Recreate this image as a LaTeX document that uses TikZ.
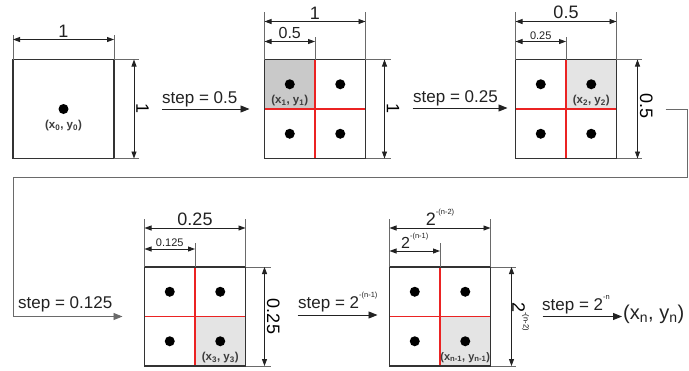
\documentclass[tikz,border=0pt]{standalone}
\usepackage{fontspec}
\setmainfont{Liberation Sans}
\usetikzlibrary{arrows.meta,backgrounds,calc}
\definecolor{boxc}{HTML}{333333}
\definecolor{dimc}{HTML}{222222}
\definecolor{extc}{HTML}{6A6A6A}
\definecolor{redc}{RGB}{235,35,35}
\definecolor{shadeA}{HTML}{C9C9C9}
\definecolor{shadeB}{HTML}{E4E4E4}
\definecolor{labc}{HTML}{3C3C3C}
\newcommand\fsz[1]{\fontsize{#1}{#1}\selectfont}
\newcommand\hsup[1]{\raisebox{0.62em}{\fsz{7.5}#1}}
\tikzset{
  frame/.style={inner sep=0pt, outer sep=0pt, minimum width=101pt, minimum height=99pt},
  border/.style={draw=boxc, line width=1.6pt},
  dimline/.style={draw=dimc, line width=0.9pt, {Triangle[length=7pt,width=5pt]}-{Triangle[length=7pt,width=5pt]}},
  extline/.style={draw=extc, line width=0.5pt},
  gridline/.style={draw=redc, line width=1.1pt},
  flow/.style={draw=dimc, line width=0.9pt, -{Triangle[length=9pt,width=7pt]}},
  conn/.style={draw=extc, line width=0.8pt, -{Triangle[length=9pt,width=7pt]}},
  dot/.style={circle, fill=black, minimum size=10pt, inner sep=0pt},
  ptlabel/.style={font=\fsz{11.5}\bfseries, text=labc, inner sep=0pt},
  dimbig/.style={font=\fsz{18}, text=dimc, inner sep=2pt},
  dimmid/.style={font=\fsz{16}, text=dimc, inner sep=2.5pt},
  dimsmall/.style={font=\fsz{11}, text=dimc, inner sep=1.5pt},
  steptext/.style={font=\fsz{17}, text=dimc, inner sep=0pt, anchor=base west},
  vlab/.style={anchor=south, rotate=-90, inner sep=2pt},
}
\begin{document}
\begin{tikzpicture}[x=1pt,y=-1pt]
\useasboundingbox (0,0) rectangle (689,370);

% frames
\node[frame] (b0) at (63.5,109) {};
\node[frame] (b1) at (315,109) {};
\node[frame] (b2) at (566,109) {};
\node[frame] (b3) at (195,316.5) {};
\node[frame] (b4) at (440,316.5) {};

% background and shading
\begin{scope}[on background layer]
  \fill[white] (0,0) rectangle (689,370);
  \fill[shadeA] (b1.north west) rectangle (b1.center);
  \fill[shadeB] (b2.north) rectangle (b2.east);
  \fill[shadeB] (b3.center) rectangle (b3.south east);
  \fill[shadeB] (b4.center) rectangle (b4.south east);
\end{scope}

% red grid lines
\foreach \b in {b1,b2,b3,b4} {
  \draw[gridline] (\b.north) -- (\b.south);
  \draw[gridline] (\b.west) -- (\b.east);
}

% borders
\foreach \b in {b0,b1,b2,b3,b4} {
  \draw[border] (\b.north west) rectangle (\b.south east);
}

% dots box 0
\node[dot] (d0) at (b0.center) {};
\node[ptlabel] (p0) at ([yshift=-17pt]d0) {(x\textsubscript{0}, y\textsubscript{0})};

% dots boxes 1-4
\foreach \b in {b1,b2,b3,b4} {
  \node[dot] (\b nw) at ($(\b.center)!0.5!(\b.north west)$) {};
  \node[dot] (\b ne) at ($(\b.center)!0.5!(\b.north east)$) {};
  \node[dot] (\b sw) at ($(\b.center)!0.5!(\b.south west)$) {};
  \node[dot] (\b se) at ($(\b.center)!0.5!(\b.south east)$) {};
}
\node[ptlabel] (p1) at ([yshift=-16pt]b1nw) {(x\textsubscript{1}, y\textsubscript{1})};
\node[ptlabel] (p2) at ([yshift=-16pt]b2ne) {(x\textsubscript{2}, y\textsubscript{2})};
\node[ptlabel] (p3) at ([yshift=-16pt]b3se) {(x\textsubscript{3}, y\textsubscript{3})};
\node[ptlabel, font=\fsz{11}\bfseries] (p4) at ([yshift=-16pt]b4se) {(x\textsubscript{n-1}, y\textsubscript{n-1})};

% ---- top dimensions ----
% box 0
\draw[extline] (b0.north west) -- ++(0,-25);
\draw[extline] (b0.north east) -- ++(0,-25);
\draw[dimline] ([yshift=20pt]b0.north west) -- ([yshift=20pt]b0.north east)
  node[midway, above, dimbig] (t0) {1};
% box 1
\draw[extline] (b1.north west) -- ++(0,-48);
\draw[extline] (b1.north east) -- ++(0,-48);
\draw[extline] (b1.north) -- ++(0,-23);
\draw[dimline] ([yshift=38pt]b1.north west) -- ([yshift=38pt]b1.north east)
  node[midway, above, dimbig] (t1) {1};
\draw[dimline] ([yshift=18pt]b1.north west) -- ([yshift=18pt]b1.north)
  node[midway, above, dimmid] (u1) {0.5};
% box 2
\draw[extline] (b2.north west) -- ++(0,-48);
\draw[extline] (b2.north east) -- ++(0,-48);
\draw[extline] (b2.north) -- ++(0,-23);
\draw[dimline] ([yshift=38pt]b2.north west) -- ([yshift=38pt]b2.north east)
  node[midway, above, dimbig] (t2) {0.5};
\draw[dimline] ([yshift=18pt]b2.north west) -- ([yshift=18pt]b2.north)
  node[midway, above, dimsmall] (u2) {0.25};
% box 3
\draw[extline] (b3.north west) -- ++(0,-48);
\draw[extline] (b3.north east) -- ++(0,-48);
\draw[extline] (b3.north) -- ++(0,-24);
\draw[dimline] ([yshift=39pt]b3.north west) -- ([yshift=39pt]b3.north east)
  node[midway, above, dimbig] (t3) {0.25};
\draw[dimline] ([yshift=18pt]b3.north west) -- ([yshift=18pt]b3.north)
  node[midway, above, dimsmall] (u3) {0.125};
% box 4
\draw[extline] (b4.north west) -- ++(0,-48);
\draw[extline] (b4.north east) -- ++(0,-48);
\draw[extline] (b4.north) -- ++(0,-24);
\draw[dimline] ([yshift=39pt]b4.north west) -- ([yshift=39pt]b4.north east)
  node[midway, above, dimbig] (t4) {2\hsup{-(n-2)}};
\draw[dimline] ([yshift=16pt]b4.north west) -- ([yshift=16pt]b4.north)
  node[midway, above, dimmid] (u4) {2\hsup{-(n-1)}};

% ---- right dimensions ----
\foreach \b in {b0,b1,b2,b3,b4} {
  \draw[extline] (\b.north east) -- ++(25,0);
  \draw[extline] (\b.south east) -- ++(25,0);
}
\draw[dimline] ([xshift=20pt]b0.north east) -- ([xshift=20pt]b0.south east)
  node[midway, vlab, font=\fsz{18}] (v0) {1};
\draw[dimline] ([xshift=19pt]b1.north east) -- ([xshift=19pt]b1.south east)
  node[midway, vlab, font=\fsz{18}] (v1) {1};
\draw[dimline] ([xshift=21pt]b2.north east) -- ([xshift=21pt]b2.south east)
  node[midway, vlab, font=\fsz{18}, xshift=-3pt] (v2) {0.5};
\draw[dimline] ([xshift=19pt]b3.north east) -- ([xshift=19pt]b3.south east)
  node[midway, vlab, font=\fsz{18}] (v3) {0.25};
\draw[dimline] ([xshift=21pt]b4.north east) -- ([xshift=21pt]b4.south east)
  node[midway, vlab, font=\fsz{18}, inner sep=0.5pt] (v4) {2\hsup{-(n-2)}};

% ---- step arrows ----
\coordinate (s1a) at ([xshift=48pt]b0.east);
\coordinate (s1b) at ([xshift=-15pt]b1.west);
\draw[flow] (s1a) -- (s1b);
\node[steptext] (st1) at (162,103) {step = 0.5};

\coordinate (s2a) at ([xshift=47pt,yshift=1pt]b1.east);
\coordinate (s2b) at ([xshift=-8pt,yshift=1pt]b2.west);
\draw[flow] (s2a) -- (s2b);
\node[steptext] (st2) at (413,102) {step = 0.25};

\coordinate (c0) at ([xshift=49pt]b2.east);
\coordinate (k1) at (687,177);
\coordinate (k2) at (13,177);
\coordinate (c3) at ([xshift=-22pt]b3.west);
\draw[conn] (c0) -| (k1) -- (k2) |- (c3);
\node[steptext] (st3) at (18,308) {step = 0.125};

\coordinate (s4a) at ([xshift=52pt,yshift=1.5pt]b3.east);
\coordinate (s4b) at ([xshift=-12pt,yshift=1.5pt]b4.west);
\draw[flow] (s4a) -- (s4b);
\node[steptext] (st4) at (298,308) {step = 2\hsup{-(n-1)}};

\node[anchor=west, inner sep=1pt, font=\fsz{20}, text=dimc] (res) at (622,314)
  {(x\textsubscript{n}, y\textsubscript{n})};
\coordinate (s5a) at ([xshift=52pt]b4.east);
\draw[flow] (s5a) -- (s5a -| res.west);
\node[steptext] (st5) at (542,310) {step = 2\hsup{-n}};
\end{tikzpicture}
\end{document}
